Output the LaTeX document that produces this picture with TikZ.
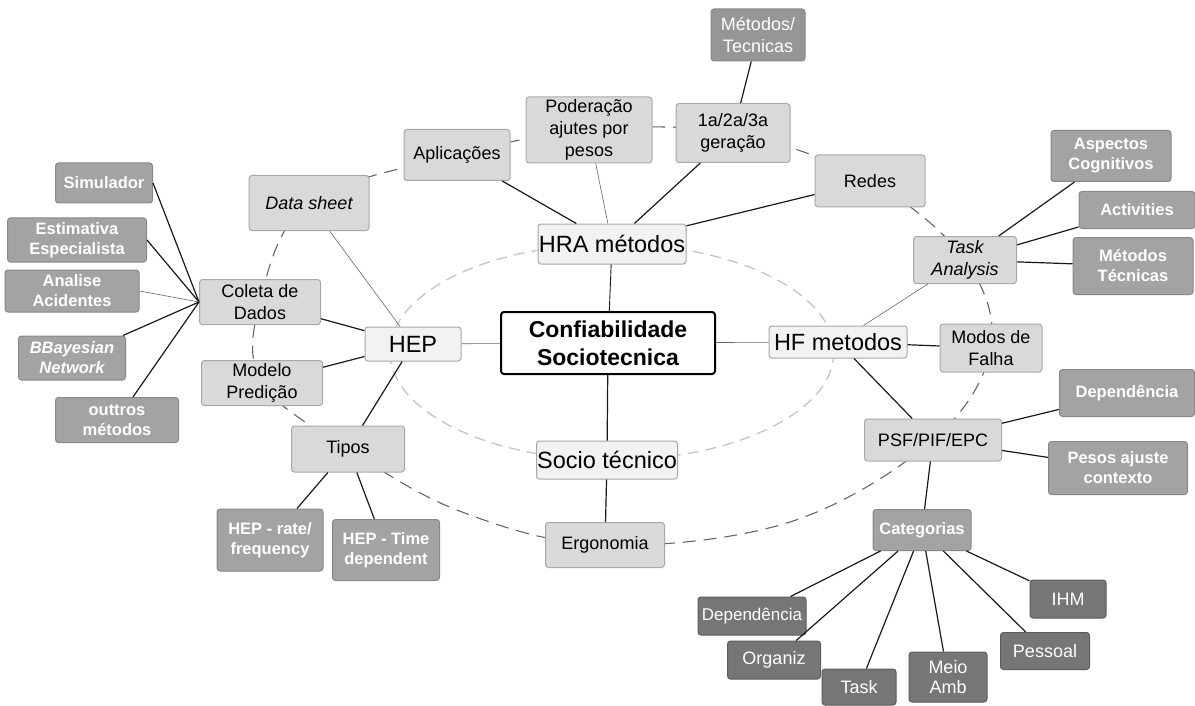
\documentclass[tikz,border=0pt]{standalone}
\usepackage{fontspec}
\setmainfont{Liberation Sans}
\usetikzlibrary{calc}
\pgfdeclarelayer{bg}
\pgfsetlayers{bg,main}
\definecolor{ltfill}{HTML}{F2F2F2}
\definecolor{mdfill}{HTML}{D9D9D9}
\definecolor{dkfill}{HTML}{A3A3A3}
\definecolor{ddfill}{HTML}{767676}
\definecolor{bordA}{HTML}{A8A8A8}
\definecolor{bordB}{HTML}{888888}
\definecolor{bordC}{HTML}{5C5C5C}
\definecolor{ringout}{HTML}{666666}
\definecolor{ringin}{HTML}{C4C4C4}
\begin{document}
\begin{tikzpicture}[x=1pt,y=-1pt,
  sz/.style n args={2}{minimum width=#1,minimum height=#2},
  base/.style={rounded corners=3pt,inner sep=0pt,align=center,line width=1pt},
  lt/.style={base,fill=ltfill,draw=bordA,font=\fontsize{23.5}{26}\selectfont},
  md/.style={base,fill=mdfill,draw=bordA,font=\fontsize{18}{22}\selectfont},
  dk/.style={base,fill=dkfill,draw=bordB,text=white,font=\bfseries\fontsize{16.5}{20}\selectfont},
  dd/.style={base,fill=ddfill,draw=bordC,text=white,font=\fontsize{18}{20}\selectfont},
  cn/.style={draw=black!90,line width=1.2pt},
  tn/.style={draw=black!60,line width=0.6pt},
  ring/.style={draw=ringout,line width=1.1pt,dash pattern=on 13pt off 8pt},
]
\useasboundingbox (0,0) rectangle (1195,706);
% central
\node[base,sz={214}{62},draw=black,line width=2pt,fill=white,font=\bfseries\fontsize{23}{28}\selectfont] (core) at (608,343) {Confiabilidade\\Sociotecnica};
% main branches
\node[lt,sz={148}{40}] (hra) at (612,244) {HRA métodos};
\node[lt,sz={96}{34}] (hep) at (413,344) {HEP};
\node[lt,sz={138}{32}] (hf) at (838,342) {HF metodos};
\node[lt,sz={141}{38}] (soc) at (607,460) {Socio técnico};
% mid boxes
\node[md,sz={106}{51}] (apl) at (457,155) {Aplicações};
\node[md,sz={126}{66}] (pod) at (589,130) {Poderação\\ajutes por\\pesos};
\node[md,sz={114}{59}] (ger) at (733,133) {1a/2a/3a\\geração};
\node[md,sz={110}{52}] (red) at (870,181) {Redes};
\node[md,sz={120}{55},font=\itshape\fontsize{18}{22}\selectfont] (dat) at (309,203) {Data sheet};
\node[md,sz={121}{45}] (col) at (260,302) {Coleta de\\Dados};
\node[md,sz={121}{45}] (mod) at (262,383) {Modelo\\Predição};
\node[md,sz={113}{46}] (tip) at (348,449) {Tipos};
\node[md,sz={119}{45}] (erg) at (605,545) {Ergonomia};
\node[md,sz={103}{47},font=\itshape\fontsize{18}{22}\selectfont] (tsk) at (965,260) {Task\\Analysis};
\node[md,sz={102}{48}] (mdf) at (991,348) {Modos de\\Falha};
\node[md,sz={137}{42}] (psf) at (933,440) {PSF/PIF/EPC};
% dark boxes
\node[dk,sz={97}{40}] (sim) at (104,183) {Simulador};
\node[dk,sz={139}{44}] (est) at (77,240) {Estimativa\\Especialista};
\node[dk,sz={134}{42}] (ana) at (72,291) {Analise\\Acidentes};
\node[dk,sz={107}{44},font=\bfseries\itshape\fontsize{16.5}{20}\selectfont] (bay) at (72,358) {BBayesian\\Network};
\node[dk,sz={123}{45}] (out) at (117,420) {outtros\\métodos};
\node[dk,sz={106}{62}] (hr) at (270,540) {HEP - rate/\\frequency};
\node[dk,sz={107}{61}] (ht) at (386,550) {HEP - Time\\dependent};
\node[base,sz={94}{52},fill=dkfill!92!black,draw=bordB,text=white,font=\fontsize{18}{22}\selectfont] (met) at (758,35) {Métodos/\\Tecnicas};
\node[dk,sz={120}{51}] (asp) at (1111,156) {Aspectos\\Cognitivos};
\node[dk,sz={116}{37}] (act) at (1137,210) {Activities};
\node[dk,sz={120}{57}] (mtt) at (1133,266) {Métodos\\Técnicas};
\node[dk,sz={135}{47}] (dep) at (1127,393) {Dependência};
\node[dk,sz={139}{53}] (pes) at (1118,468) {Pesos ajuste\\contexto};
\node[dk,sz={98}{41}] (cat) at (922,530) {Categorias};
% darkest boxes
\node[dd,sz={108}{38},font=\fontsize{17}{20}\selectfont] (cdep) at (752,616) {Dependência};
\node[dd,sz={93}{38}] (org) at (774,660) {Organiz};
\node[dd,sz={74}{36}] (ctk) at (859,687) {Task};
\node[dd,sz={78}{50}] (mei) at (948,677) {Meio\\Amb};
\node[dd,sz={89}{37}] (pss) at (1045,651) {Pessoal};
\node[dd,sz={76}{38}] (ihm) at (1068,599) {IHM};
% rings
\begin{pgfonlayer}{bg}
\draw[draw=ringin,line width=1.3pt,dash pattern=on 11pt off 7pt] (612,352) ellipse [x radius=222, y radius=108];
\draw[ring] plot[smooth cycle,tension=0.6] coordinates {(apl.center) (pod.center) (ger.center) (red.center) (tsk.center) (mdf.center) (psf.center) (790,522) (erg.center) (462,512) (tip.center) (mod.center) (col.center) (dat.center)};
\end{pgfonlayer}
% connectors
\draw[cn,line width=0.9pt] (core) -- (hra);
\draw[tn] (core) -- (hep);
\draw[tn] (core) -- (hf);
\draw[cn] (core) -- (soc);
\draw[cn] (hra) -- (apl);
\draw[tn] (hra) -- (pod);
\draw[cn] (hra) -- (ger);
\draw[cn] (hra) -- (red);
\draw[cn] (ger) -- (met);
\draw[tn] (hep) -- (dat);
\draw[cn] (hep) -- (col);
\draw[cn] (hep) -- (mod);
\draw[cn] (hep) -- (tip);
\draw[cn] (col.west) -- (sim.east);
\draw[cn] (col.west) -- (est.east);
\draw[tn] (col.west) -- (ana.east);
\draw[cn] (col.west) -- (bay);
\draw[cn] (col.west) -- (out);
\draw[cn] (tip) -- (hr);
\draw[cn] (tip) -- (ht);
\draw[cn] (soc) -- (erg);
\draw[tn] (hf) -- (tsk);
\draw[cn] (hf) -- (mdf);
\draw[cn] (hf) -- (psf);
\draw[cn] (tsk) -- (asp);
\draw[cn] (tsk) -- (act);
\draw[cn] (tsk) -- (mtt);
\draw[cn] (psf) -- (dep);
\draw[cn] (psf) -- (pes);
\draw[cn] (psf) -- (cat);
\draw[cn] (cat) -- (cdep);
\draw[cn] (cat) -- (org);
\draw[cn] (cat) -- (ctk);
\draw[cn] (cat) -- (mei);
\draw[cn] (cat) -- (pss);
\draw[cn] (cat) -- (ihm);
\end{tikzpicture}
\end{document}
